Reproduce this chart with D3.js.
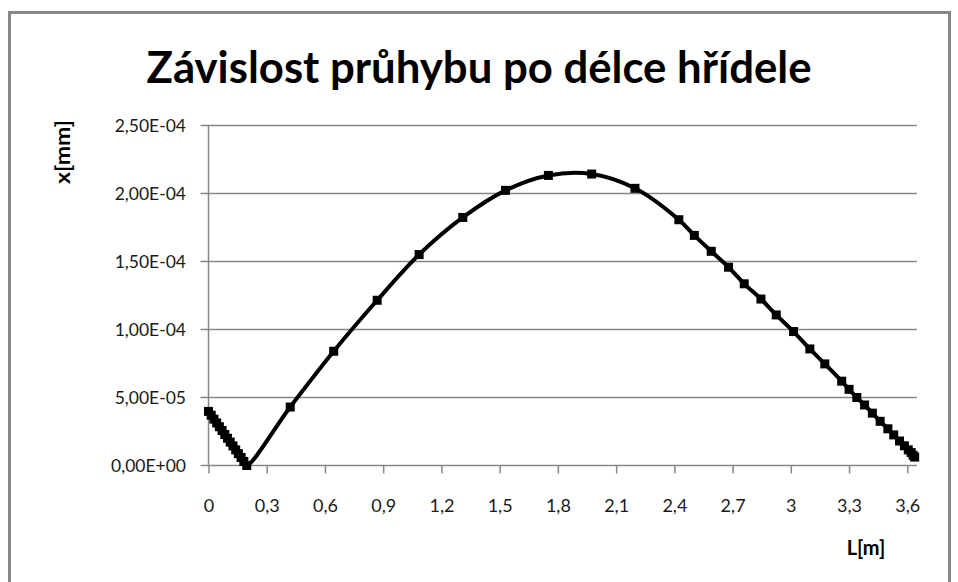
<!DOCTYPE html>
<html>
<head>
<meta charset="utf-8">
<script src="https://cdn.jsdelivr.net/npm/d3@7"></script>
<style>
	body { margin: 0; background: #fff; }
	svg { display: block; font-family: Lato, "Open Sans", sans-serif; }
</style>
</head>
<body>
<svg id="graph"></svg>
<script>
// chart data: L[m] and deflection x[mm]
const lengthM = [
	0, 0.014, 0.028, 0.042, 0.056, 0.07, 0.084, 0.098, 0.112, 0.126, 0.14, 0.154, 0.168, 0.182, 0.197,
	0.421, 0.645, 0.869, 1.085, 1.31, 1.53, 1.751, 1.974, 2.197, 2.423,
	2.503, 2.59, 2.679, 2.76, 2.846, 2.925, 3.014, 3.098, 3.175, 3.262,
	3.3, 3.34, 3.38, 3.42, 3.46, 3.5, 3.53, 3.56, 3.585, 3.605, 3.62, 3.63, 3.638,
];
const deflection = [
	3.98e-5, 3.7e-5, 3.41e-5, 3.13e-5, 2.85e-5, 2.57e-5, 2.28e-5, 2.0e-5, 1.72e-5, 1.44e-5, 1.15e-5, 0.87e-5, 0.59e-5, 0.3e-5, 0,
	4.3e-5, 8.4e-5, 1.215e-4, 1.551e-4, 1.824e-4, 2.023e-4, 2.133e-4, 2.143e-4, 2.038e-4, 1.807e-4,
	1.692e-4, 1.575e-4, 1.458e-4, 1.336e-4, 1.224e-4, 1.107e-4, 9.85e-5, 8.57e-5, 7.47e-5, 6.2e-5,
	5.6e-5, 5.0e-5, 4.45e-5, 3.85e-5, 3.25e-5, 2.7e-5, 2.25e-5, 1.8e-5, 1.45e-5, 1.15e-5, 0.95e-5, 0.75e-5, 0.62e-5,
];

// axis ticks
const xTicks = [0, 0.3, 0.6, 0.9, 1.2, 1.5, 1.8, 2.1, 2.4, 2.7, 3, 3.3, 3.6];
const xTickLabels = ["0", "0,3", "0,6", "0,9", "1,2", "1,5", "1,8", "2,1", "2,4", "2,7", "3", "3,3", "3,6"];
const yTicks = [0, 5e-5, 1e-4, 1.5e-4, 2e-4, 2.5e-4];
const yTickLabels = ["0,00E+00", "5,00E-05", "1,00E-04", "1,50E-04", "2,00E-04", "2,50E-04"];

const title = "Závislost průhybu po délce hřídele";

const w = 958;
const h = 582;
const grey = "#878787";

const svg = d3.select("#graph").attr("width", w).attr("height", h);

// outer chart border
svg.append("rect")
	.attr("x", 9.5)
	.attr("y", 12.5)
	.attr("width", 940)
	.attr("height", 600)
	.attr("fill", "none")
	.attr("stroke", grey)
	.attr("stroke-width", 3);

// scales
const xScale = d3.scaleLinear().domain([0, 3.65]).range([208.5, 917]);
const yScale = d3.scaleLinear().domain([0, 2.5e-4]).range([465.5, 125.5]);

// horizontal grid lines
svg.append("g")
	.selectAll("line")
	.data(yTicks)
	.enter()
	.append("line")
	.attr("x1", xScale(0) - 8)
	.attr("x2", xScale(3.65))
	.attr("y1", (d) => yScale(d))
	.attr("y2", (d) => yScale(d))
	.attr("stroke", grey)
	.attr("stroke-width", 1.5);

// y axis line
svg.append("line")
	.attr("x1", xScale(0))
	.attr("x2", xScale(0))
	.attr("y1", yScale(2.5e-4))
	.attr("y2", yScale(0))
	.attr("stroke", grey)
	.attr("stroke-width", 1.5);

// x axis with ticks below
const xAxis = d3.axisBottom(xScale)
	.tickValues(xTicks)
	.tickSize(8)
	.tickFormat((d, i) => xTickLabels[i]);
const gx = svg.append("g")
	.attr("transform", "translate(0," + yScale(0) + ")")
	.call(xAxis);
gx.select(".domain").remove();
gx.selectAll(".tick line").attr("stroke", grey).attr("stroke-width", 1.5);
gx.selectAll(".tick text")
	.attr("y", 46)
	.attr("dy", 0)
	.attr("fill", "#1a1a1a")
	.style("font-size", "18px")
	.style("font-family", "Lato, sans-serif");

// y tick labels
svg.append("g")
	.selectAll("text")
	.data(yTicks)
	.enter()
	.append("text")
	.attr("x", 186)
	.attr("y", (d) => yScale(d) + 6)
	.attr("text-anchor", "end")
	.attr("fill", "#1a1a1a")
	.style("font-size", "17.5px")
	.text((d, i) => yTickLabels[i]);

// smoothed line through the points
const points = lengthM.map((d, i) => [d, deflection[i]]);
const line = d3.line()
	.x((d) => xScale(d[0]))
	.y((d) => yScale(d[1]))
	.curve(d3.curveCatmullRom.alpha(0.5));
svg.append("path")
	.datum(points)
	.attr("d", line)
	.attr("fill", "none")
	.attr("stroke", "#000")
	.attr("stroke-width", 4);

// square markers
svg.append("g")
	.selectAll("rect")
	.data(points)
	.enter()
	.append("rect")
	.attr("x", (d) => xScale(d[0]) - 4.5)
	.attr("y", (d) => yScale(d[1]) - 4.5)
	.attr("width", 9)
	.attr("height", 9)
	.attr("fill", "#000");

// title
svg.append("text")
	.attr("x", 479)
	.attr("y", 83)
	.attr("text-anchor", "middle")
	.attr("textLength", 665)
	.attr("lengthAdjust", "spacingAndGlyphs")
	.style("font-size", "44px")
	.style("font-weight", "bold")
	.text(title);

// axis titles
svg.append("text")
	.attr("transform", "translate(70,152) rotate(-90)")
	.attr("text-anchor", "middle")
	.attr("textLength", 64)
	.attr("lengthAdjust", "spacingAndGlyphs")
	.style("font-size", "21px")
	.style("font-weight", "bold")
	.text("x[mm]");
svg.append("text")
	.attr("x", 866)
	.attr("y", 555)
	.attr("text-anchor", "middle")
	.style("font-size", "20px")
	.style("font-weight", "bold")
	.text("L[m]");
</script>
</body>
</html>
